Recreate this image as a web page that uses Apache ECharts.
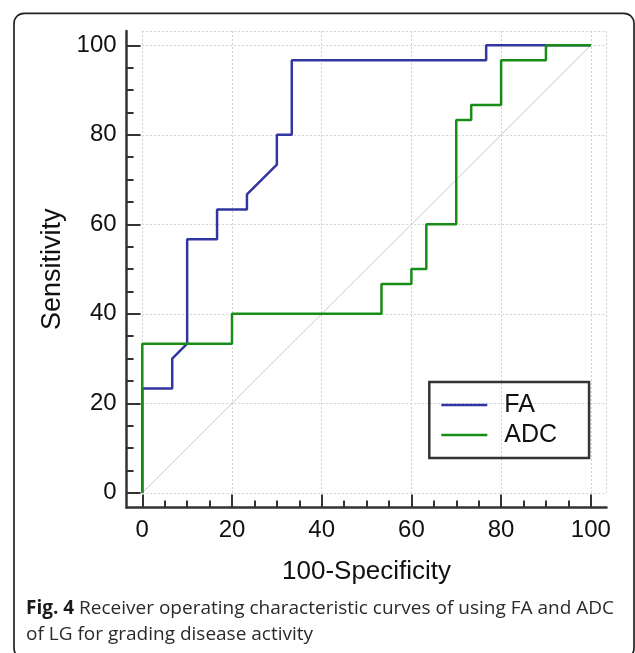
<!DOCTYPE html>
<html><head><meta charset="utf-8">
<script src="https://cdn.jsdelivr.net/npm/echarts@6/dist/echarts.min.js"></script>
<style>html,body{margin:0;padding:0;background:#fff}#c{width:635px;height:653px}</style>
</head><body><div id="c"></div>
<script>
// ---- data ----
const seriesNames = ['FA', 'ADC'];
const faPoints = [[0,0],[0,23.33],[6.67,23.33],[6.67,30],[10,33.33],[10,56.67],[16.67,56.67],[16.67,63.33],[23.33,63.33],[23.33,66.67],[30,73.33],[30,80],[33.33,80],[33.33,96.67],[76.67,96.67],[76.67,100],[100,100]];
const adcPoints = [[0,0],[0,33.33],[20,33.33],[20,40],[53.33,40],[53.33,46.67],[60,46.67],[60,50],[63.33,50],[63.33,60],[70,60],[70,83.33],[73.33,83.33],[73.33,86.67],[80,86.67],[80,96.67],[90,96.67],[90,100],[100,100]];
const diagonalPoints = [[0,0],[100,100]];
const majorTicks = [0,20,40,60,80,100];
const minorTicks = [5,10,15,25,30,35,45,50,55,65,70,75,85,90,95];
const xTitle = '100-Specificity';
const yTitle = 'Sensitivity';
const captionBold = 'Fig. 4';
const captionLine1 = ' Receiver operating characteristic curves of using FA and ADC';
const captionLine2 = 'of LG for grading disease activity';

// ---- chart ----
const chart = echarts.init(document.getElementById('c'), null, {renderer: 'canvas'});
const AX = '#333';
const TXT = '#111';
const FONT = 'Liberation Sans';
const CAP_FONT = 'Open Sans';
const CAP_SIZE = 19;
const grid0 = {left: 142.3, top: 31, width: 464.2, height: 461.8};
const grid1 = {left: 126.6, top: 31, width: 479.9, height: 476.6};

const hiddenAxis = {show: true, axisLine: {show: false}, axisTick: {show: false}, axisLabel: {show: false}};
const gridLine = {show: true, lineStyle: {color: '#d2d2d2', width: 1, type: [2, 2]}};

const option = {
  backgroundColor: '#fff',
  animation: false,
  grid: [grid0, grid1],
  xAxis: [
    Object.assign({type: 'value', gridIndex: 0, min: 0, max: 103.5, interval: 20, position: 'bottom', splitLine: gridLine}, hiddenAxis),
    {type: 'value', gridIndex: 1, min: -3.5, max: 103.5, position: 'bottom',
      axisLine: {show: true, onZero: false, lineStyle: {color: AX, width: 2.5}},
      axisTick: {show: true, inside: true, length: 13, customValues: majorTicks, lineStyle: {color: AX, width: 2}},
      axisLabel: {show: true, customValues: majorTicks, margin: 11, fontSize: 24, fontFamily: FONT, color: TXT},
      splitLine: {show: false},
      name: xTitle, nameLocation: 'middle', nameGap: 51,
      nameTextStyle: {fontSize: 26, fontFamily: FONT, color: TXT}},
    {type: 'value', gridIndex: 1, min: -3.5, max: 103.5, position: 'bottom',
      axisLine: {show: false, onZero: false},
      axisTick: {show: true, inside: true, length: 7, customValues: minorTicks, lineStyle: {color: AX, width: 2}},
      axisLabel: {show: false}, splitLine: {show: false}}
  ],
  yAxis: [
    Object.assign({type: 'value', gridIndex: 0, min: 0, max: 103.2, interval: 20, position: 'left', splitLine: gridLine}, hiddenAxis),
    {type: 'value', gridIndex: 1, min: -3.3, max: 103.2, position: 'left',
      axisLine: {show: true, onZero: false, lineStyle: {color: AX, width: 2.5}},
      axisTick: {show: true, inside: true, length: 14, customValues: majorTicks, lineStyle: {color: AX, width: 2}},
      axisLabel: {show: true, customValues: majorTicks, margin: 10, fontSize: 24, fontFamily: FONT, color: TXT},
      splitLine: {show: false},
      name: yTitle, nameLocation: 'middle', nameGap: 46,
      nameTextStyle: {fontSize: 27, fontFamily: FONT, color: TXT}},
    {type: 'value', gridIndex: 1, min: -3.3, max: 103.2, position: 'left',
      axisLine: {show: false, onZero: false},
      axisTick: {show: true, inside: true, length: 7, customValues: minorTicks, lineStyle: {color: AX, width: 2}},
      axisLabel: {show: false}, splitLine: {show: false}}
  ],
  legend: {
    data: seriesNames, orient: 'vertical', left: 429.3, top: 382,
    padding: [10.5, 32, 10.5, 12], borderColor: AX, borderWidth: 2.5, borderRadius: 0,
    icon: 'rect', itemWidth: 46, itemHeight: 2.5, itemGap: 5,
    textStyle: {fontSize: 25, fontFamily: FONT, color: TXT, lineHeight: 25, padding: [0, 0, 0, 12]}
  },
  title: {
    left: 26, top: 596, padding: 0,
    text: '{b|' + captionBold + '}{r|' + captionLine1 + '}\n{r|' + captionLine2 + '}',
    textStyle: {
      fontSize: CAP_SIZE, fontFamily: CAP_FONT, color: '#2a2a2a', lineHeight: 25.7,
      rich: {
        b: {fontSize: CAP_SIZE, fontFamily: CAP_FONT, fontWeight: 'bold', color: '#1a1a1a', lineHeight: 25.7},
        r: {fontSize: CAP_SIZE, fontFamily: CAP_FONT, fontWeight: 'normal', color: '#2a2a2a', lineHeight: 25.7}
      }
    }
  },
  graphic: [{
    type: 'rect', silent: true, z: 100,
    shape: {x: 14, y: 13.3, width: 620, height: 645, r: 10},
    style: {fill: 'none', stroke: '#222', lineWidth: 1.7}
  }],
  series: [
    {type: 'line', name: 'diag', xAxisIndex: 0, yAxisIndex: 0, data: diagonalPoints, symbol: 'none', silent: true,
      lineStyle: {color: '#c8c8c8', width: 1}},
    {type: 'line', name: seriesNames[0], xAxisIndex: 0, yAxisIndex: 0, data: faPoints, symbol: 'none',
      color: '#3236a0', lineStyle: {color: '#3236a0', width: 2.5}},
    {type: 'line', name: seriesNames[1], xAxisIndex: 0, yAxisIndex: 0, data: adcPoints, symbol: 'none',
      color: '#178c17', lineStyle: {color: '#178c17', width: 2.5}}
  ]
};
chart.setOption(option);
</script>
</body></html>
